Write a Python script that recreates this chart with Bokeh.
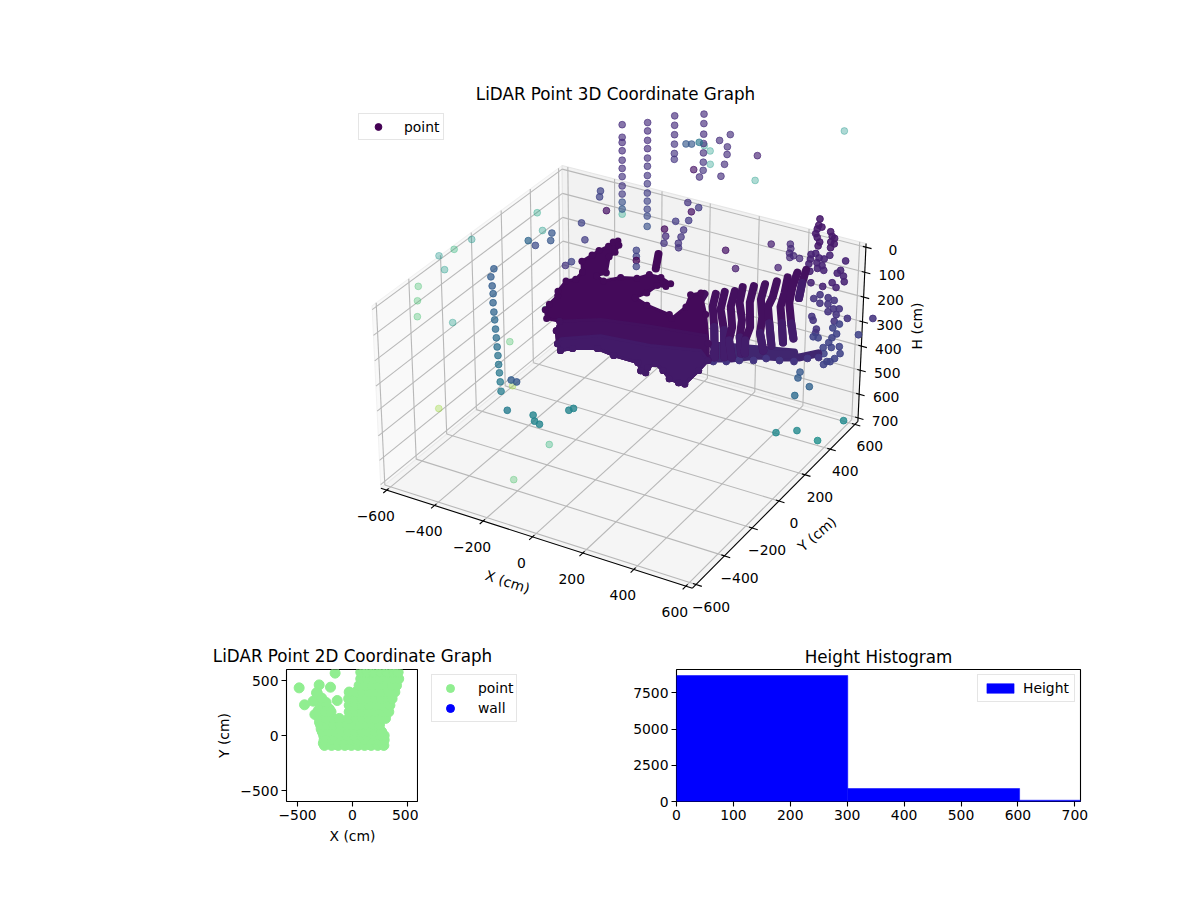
from bokeh.plotting import figure
from bokeh.layouts import column, row
from bokeh.models import Range1d, Legend, LegendItem, FixedTicker, LinearColorMapper, ColumnDataSource
from bokeh.transform import transform
from bokeh.core.properties import value
from bokeh.palettes import Viridis256
from bokeh.embed import file_html
from bokeh.resources import INLINE

FONT = "DejaVu Sans"
TICK_PX = "13.9px"
TITLE_PX = "16.75px"

# ---------- 3D chart values: x (cm), y (cm), h (cm), tone on viridis 0..1 ----------
col_a_xy = (-625, 1070)
col_a_h = [0, 53, 75, 110, 150, 185, 220, 260, 295, 330, 360]
col_a_tone = [.13, .13, .13, .13, .14, .14, .15, .16, .17, .25, .28]
col_b_xy = (-550, 1135)
col_b_h = [0, 35, 75, 110, 150, 185, 225, 260, 300, 335, 370, 400, 445]
col_b_tone = [.13, .13, .13, .13, .14, .15, .16, .17, .18, .2, .2, .22, .25]
col_d_xy = (-490, 1240)
col_d_h = [0, 40, 80, 120, 160, 185]
col_d_tone = [.13, .13, .14, .15, .15, .16]
col_e_xy = (-400, 1310)
col_e_h = [0, 40, 85, 125, 165, 205, 240]
col_e_tone = [.13, .13, .13, .14, .14, .15, .15]

col_f_x = -565
col_f_y = [49, 28, 35, 40, 38, 42, 46, 50, 54, 58, 62, 65, 69, 73, 77]
col_f_h = [137, 160, 200, 234, 270, 310, 344, 384, 422, 462, 500, 539, 576, 616, 658]
col_f_tone = [.3, .3, .3, .31, .32, .33, .34, .35, .36, .37, .38, .39, .4, .41, .42]

back_x = [-432, -413, -395, -335, -324, -282, -251, -219, -182, -249, -298, -146]
back_y = [1227, 1237, 1265, 1319, 1386, 1284, 1224, 1144, 1047, 1001, 1045, 1273]
back_h = [100] * 12
back_tone = [.28, .28, .4, .14, .14, .14, .14, .14, .14, .14, .05, .1]

pale_x = [-364, -322, -266, -54, 44, -623, -532, -717, -730, -750, -675, -687, -631, -568, -440, -582, -501, -640, -542, -625, -253, -238]
pale_y = [1249, 1219, 1117, 1080, 1636, 442, 330, 142, 45, -24, -103, -254, -344, -440, -414, 171, 291, -223, 121, 1070, -97, -363]
pale_h = [100, 100, 100, 100, 100, 100, 100, 100, 100, 100, 100, 100, 100, 100, 100, 500, 400, 600, 650, 382, 700, 700]
pale_tone = [.55, .55, .55, .55, .52, .6, .55, .52, .65, .52, .55, .7, .7, .7, .55, .72, .68, .85, .85, .58, .65, .72]

mid_x = [-512, -490, -411, -440, -361, -320, -316, -465, -492, -535, -493,
         -248, -216, -194, -279, -223, -230, -243, -204, -183, -164, -148, -130, 29, 128, 151, 258, 212, 230, 242, 264, 259, 293,
         -254, -254, -254, -254, -349]
mid_y = [713, 669, 584, 453, 344, 139, 174, 277, 330, 236, 217,
         732, 684, 632, 967, 950, 906, 808, 838, 761, 707, 658, 627, 696, 588, 823, 672, 858, 827, 793, 782, 763, 774,
         532, 532, 532, 532, 542]
mid_h = [100, 100, 100, 100, 100, 100, 100, 100, 100, 100, 100,
         200, 200, 200, 200, 200, 200, 200, 200, 200, 200, 200, 200, 200, 200, 200, 200, 200, 200, 200, 200, 200, 200,
         200, 225, 242, 267, 200]
mid_tone = [.2, .2, .05, .2, .18, .15, .2, .27, .27, .33, .23,
            .03, .13, .15, .15, .17, .05, .17, .17, .15, .15, .15, .15, .05, .08, .09, .1, .12, .12, .12, .12, .12, .12,
            .2, .2, 0, .2, .12]

low_x = [-569, -544, -511, -411, -384, -357, -316, -308, 366, 379, 444, 427, 588, 414, 473, 569]
low_y = [154, 152, 32, 50, 16, 6, 145, 165, 661, 619, 583, 500, 581, 383, 434, 409]
low_h = [650, 650, 700, 700, 700, 700, 700, 700, 600, 600, 600, 600, 700, 700, 700, 700]
low_tone = [.3, .28, .42, .45, .45, .45, .45, .45, .28, .3, .32, .35, .48, .47, .47, .5]

loop_x = [129, 149, 166, 158, 212, 170, 189, 234, 249, 214, 250, 268, 223, 270,
          231, 243, 295, 270, 246, 290, 258, 280, 307, 302, 329, 288, 366, 383, 382, 412, 434, 399, 332, 382, 428,
          358, 322, 315, 351, 387, 380, 414, 432, 406, 442, 458, 490, 571, 371, 388, 428, 438, 444, 463, 512, 511, 533, 536, 558, 583, 582, 578, 568, 567, 579, 476, 508, 506, 484]
loop_y = [1272, 1222, 1215, 1192, 1197, 1155, 1130, 1166, 1156, 1101, 1122, 1115, 1070, 1080,
          996, 1011, 1024, 985, 961, 987, 925, 947, 936, 908, 906, 874, 1013, 937, 911, 902, 864, 835, 796, 792, 809,
          892, 897, 859, 838, 884, 846, 824, 835, 795, 790, 742, 785, 831, 733, 710, 657, 631, 600, 602, 589, 547, 509, 562, 582, 538, 496, 468, 463, 438, 695, 694, 661, 627, 732]
loop_h = [300] * 35 + [400] * 34
loop_tone = [.07] * 14 + [.1] * 21 + [.15] * 17 + [.2] * 17

stripe_x = [280, 314, 334, 361, 371, 401, 428, 454, 473, 486, 503]
stripe_y = [[70, 35, 70, 77], [89, 68, 82, 89], [117, 89, 117, 124], [140, 112, 126, 105, 126],
            [179, 158, 179, 165, 179], [205, 177, 184, 149, 149], [236, 208, 222, 208, 236],
            [275, 247, 212, 226, 247], [320, 299, 271, 285, 299], [368, 333, 312, 333, 354], [402, 374, 353]]
stripe_h = [[20, 35, 150, 274], [20, 59, 147, 271], [20, 75, 170, 282], [20, 67, 155, 197, 276],
            [20, 71, 150, 212, 283], [20, 71, 172, 207, 259], [20, 67, 143, 200, 283],
            [20, 67, 90, 162, 261], [20, 71, 113, 185, 269], [20, 60, 114, 205, 276], [20, 59, 109]]

band_x = [[267, 343, 416, 493, 545, 591], [246, 360, 447, 515], [271, 387, 512]]
band_y = [[112, 156, 222, 250, 280, 341], [206, 247, 280, 304], [163, 222, 286]]
band_h = 300
band_edge_x = [300, 339, 375, 418, 450, 497, 544, 575, 606]
band_edge_y = [106, 129, 158, 183, 217, 228, 247, 290, 315]

lobe_x = [-263, -215]
lobe_y = [714, 609]
lobe_h = 300

cloud_x = [-404, -413, -420, -437, -452, -428, -436, -481, -473, -469, -456, -458, -447, -426, -410, -411, -356, -376, -333, -292,
           -237, -212, -164, -109, -114, -145, -150, -169, -104, 1, 22, 25, -5, 21, 114, 223, 280, 286, 289, 267, 225, 179, 133, 122,
           134, 112, 75, -23, -97, -173, -203, -237, -289, -315, -366]
cloud_y = [134, 177, 247, 277, 359, 388, 450, 522, 583, 627, 675, 714, 730, 701, 645, 603, 488, 451, 428, 483,
           507, 555, 557, 532, 505, 495, 427, 375, 347, 326, 305, 405, 494, 525, 391, 209, 103, 25, -80, -84, -75, -37, -7, -45,
           -80, -76, -32, -31, -17, -61, -94, -57, 20, 86, 81]
cloud_h = 300
cloud_low_x = [223, 280, 286, 289, 267, 225, 179, 133, 122, 134, 112, 75, -23, -97, -173, -203, -237, -289, -315, -194, -17, 192]
cloud_low_y = [209, 103, 25, -80, -84, -75, -37, -7, -45, -80, -76, -32, -31, -17, -61, -94, -57, 20, 86, 172, 217, 256]
cloud_deep_x = [280, 286, 289, 267, 225, 179, 133, 122, 134, 112, 75, -23, -97, -173, -203, -237, -245, -134, 53, 224]
cloud_deep_y = [103, 25, -80, -84, -75, -37, -7, -45, -80, -76, -32, -31, -17, -61, -94, -57, -20, 68, 95, 152]

x_ticks_3d = [-600, -400, -200, 0, 200, 400, 600]
y_ticks_3d = [-600, -400, -200, 0, 200, 400, 600]
h_ticks_3d = [0, 100, 200, 300, 400, 500, 600, 700]

# ---------- 2D chart values ----------
plan_lone_x = [-485, -436, -303, -200, -158, -139, -327, -358, -342, -282, -330, -290, -320, -290, -250, -225, -185,
               -270, -270, -265, -210, -240, -280, -260, -150, -205, -100, -310, -300, -285, -235, -175]
plan_lone_y = [433, 279, 460, 439, 567, 318, 388, 312, 191, 288, 320, 250, 385, 160, 225, 175, 150,
               100, 30, -70, 240, 300, 340, 200, 130, 130, 100, 230, 120, 60, 65, 65]
plan_rows_y = [-90, -40, 0, 35, 95, 155, 215, 275, 335, 395, 455, 515, 575, 630]
plan_rows_x = [
    [-255, -190, -130, -70, -10, 50, 110, 170, 230, 285],
    [-258, -195, -135, -75, -15, 45, 105, 165, 225, 288],
    [-262, -165, -105, -45, 15, 75, 135, 195, 255, 288],
    [-275, -215, -155, -95, -35, 25, 85, 145, 205, 265],
    [-290, -230, -170, -110, -50, 10, 70, 130, 190, 245],
    [-300, -240, -180, -120, -35, 30, 90, 150, 210, 270, 300],
    [-305, -245, -195, -30, 30, 90, 150, 210, 270, 330],
    [-30, 30, 90, 150, 210, 270, 340],
    [-35, 25, 85, 145, 205, 265, 325, 360],
    [-30, 30, 90, 150, 210, 270, 330, 385],
    [60, 120, 180, 240, 300, 360, 400],
    [75, 135, 195, 255, 315, 375, 420],
    [75, 135, 195, 255, 315, 375, 415],
    [100, 160, 220, 280, 340, 400],
]
plan_ticks = [-500, 0, 500]

# ---------- Histogram values ----------
hist_edges = [0, 301, 603, 710]
hist_counts = [8694, 897, 90]
hist_x_ticks = [0, 100, 200, 300, 400, 500, 600, 700]
hist_y_ticks = [0, 2500, 5000, 7500]


# ---------- 3D projection (view elevation 30, azimuth -60, perspective) ----------
XY_LIM = 625.0
H_LOW, H_HIGH = 714.6, -14.6
HALF_XY = 0.595
HALF_Z = 0.35


def project(x, y, h):
    dx = x / XY_LIM * HALF_XY
    dy = y / XY_LIM * HALF_XY
    dz = ((H_LOW - h) / (H_LOW - H_HIGH) - 0.5) * 2 * HALF_Z
    xv = 0.866 * dx + 0.5 * dy
    yv = -0.25 * dx + 0.433 * dy + 0.866 * dz
    n = 0.433 * dx - 0.75 * dy + 0.5 * dz
    return xv / (10 - n), yv / (10 - n)


def project_many(xs, ys, hs):
    pts = [project(a, b, c) for a, b, c in zip(xs, ys, hs)]
    return [p[0] for p in pts], [p[1] for p in pts]


def seg(p, a, b, **kw):
    (x0, y0), (x1, y1) = project(*a), project(*b)
    p.line([x0, x1], [y0, y1], **kw)


def title_style(p, standoff):
    p.title.text_font = FONT
    p.title.text_font_size = TITLE_PX
    p.title.text_font_style = "normal"
    p.title.text_color = "black"
    p.title.align = "center"
    p.title.standoff = standoff


L, R = -XY_LIM, XY_LIM
B, T = H_LOW, H_HIGH

p3 = figure(width=1184, height=640, output_backend="svg", toolbar_location=None,
            x_range=Range1d(-0.19340, 0.18784), y_range=Range1d(-0.09253, 0.08795),
            min_border_left=46, min_border_right=0, min_border_top=104, min_border_bottom=0,
            x_axis_type=None, y_axis_type=None, title="LiDAR Point 3D Coordinate Graph")
p3.grid.visible = False
p3.outline_line_color = None
title_style(p3, 1)

# panes
for corners, fill, edge in [
    ([(L, L, B), (L, R, B), (L, R, T), (L, L, T)], "#f9f9f9", "#f2f2f2"),
    ([(L, R, B), (R, R, B), (R, R, T), (L, R, T)], "#f2f2f2", "#e6e6e6"),
    ([(L, L, B), (R, L, B), (R, R, B), (L, R, B)], "#f5f5f5", "#ececec"),
]:
    xs, ys = project_many(*zip(*corners))
    p3.patch(xs, ys, fill_color=fill, line_color=edge, line_width=1.1)

GRID = dict(line_color="#b8b8b8", line_width=1.1)
for t in x_ticks_3d:
    seg(p3, (t, L, B), (t, R, B), **GRID)
    seg(p3, (t, R, B), (t, R, T), **GRID)
for t in y_ticks_3d:
    seg(p3, (L, t, B), (R, t, B), **GRID)
    seg(p3, (L, t, B), (L, t, T), **GRID)
for t in h_ticks_3d:
    seg(p3, (L, L, t), (L, R, t), **GRID)
    seg(p3, (L, R, t), (R, R, t), **GRID)

AX = dict(line_color="black", line_width=1.1)
seg(p3, (L, L, B), (R, L, B), **AX)
seg(p3, (R, L, B), (R, R, B), **AX)
seg(p3, (R, R, B), (R, R, T), **AX)
for t in x_ticks_3d:
    seg(p3, (t, L + 12, B), (t, L - 22, B), **AX)
for t in y_ticks_3d:
    seg(p3, (R - 12, t, B), (R + 22, t, B), **AX)
for t in h_ticks_3d:
    seg(p3, (R - 12, R, t), (R + 22, R, t), **AX)

TXT = dict(text_font=value(FONT), text_font_size=value(TICK_PX), text_color="black",
           text_align="center", text_baseline="middle")


def tick_labels(pts, labels, dx, dy):
    xs, ys = project_many(*zip(*pts))
    p3.text(xs, ys, text=labels, x_offset=dx, y_offset=dy, **TXT)


def minus(v):
    return str(v).replace("-", "\u2212")


tick_labels([(t, L, B) for t in x_ticks_3d], [minus(t) for t in x_ticks_3d], -11, 26)
tick_labels([(R, t, B) for t in y_ticks_3d], [minus(t) for t in y_ticks_3d], 15, 22)
tick_labels([(R, R, t) for t in h_ticks_3d], [minus(t) for t in h_ticks_3d], 27, 3)

ax_x, ax_y = project(0, L, B)
p3.text([ax_x], [ax_y], text=["X (cm)"], x_offset=-25, y_offset=45, angle=-18, angle_units="deg", **TXT)
ax_x, ax_y = project(R, 0, B)
p3.text([ax_x], [ax_y], text=["Y (cm)"], x_offset=38, y_offset=33, angle=40, angle_units="deg", **TXT)
ax_x, ax_y = project(R, R, 350)
p3.text([ax_x], [ax_y], text=["H (cm)"], x_offset=55, y_offset=-8, angle=90, angle_units="deg", **TXT)

mapper = LinearColorMapper(palette=Viridis256, low=0, high=1)


def cloud(xs, ys, hs, tones, alpha):
    u, v = project_many(xs, ys, hs)
    src = ColumnDataSource(dict(u=u, v=v, tone=tones))
    col = transform("tone", mapper)
    p3.scatter("u", "v", source=src, size=6.8, fill_color=col, line_color=col,
               fill_alpha=alpha, line_alpha=alpha, line_width=1)


cloud(pale_x, pale_y, pale_h, pale_tone, 0.36)
for (cx, cy), hs, tones in [(col_a_xy, col_a_h, col_a_tone), (col_b_xy, col_b_h, col_b_tone),
                            (col_d_xy, col_d_h, col_d_tone), (col_e_xy, col_e_h, col_e_tone)]:
    cloud([cx] * len(hs), [cy] * len(hs), hs, tones, 0.65)
cloud(back_x, back_y, back_h, back_tone, 0.65)
cloud(mid_x, mid_y, mid_h, mid_tone, 0.72)
cloud([col_f_x] * len(col_f_h), col_f_y, col_f_h, col_f_tone, 0.75)
cloud(low_x, low_y, low_h, low_tone, 0.8)
cloud(loop_x, loop_y, loop_h, loop_tone, 0.88)

THICK = dict(line_width=8, line_cap="round", line_join="round")
for bx, by in zip(band_x, band_y):
    u, v = project_many(bx, by, [band_h] * len(bx))
    p3.line(u, v, line_color="#40266f", **THICK)
cloud(band_edge_x, band_edge_y, [band_h] * len(band_edge_x), [.16] * len(band_edge_x), 1)
for sx, sy, sh in zip(stripe_x, stripe_y, stripe_h):
    u, v = project_many([sx] * len(sy), sy, sh)
    p3.line(u, v, line_color="#44105f", **THICK)
    p3.line(u[-2:], v[-2:], line_color="#431d6b", **THICK)
u, v = project_many(lobe_x, lobe_y, [lobe_h] * 2)
p3.line(u, v, line_color="#440a5a", **THICK)

u, v = project_many(cloud_x, cloud_y, [cloud_h] * len(cloud_x))
p3.patch(u, v, fill_color="#440a5a", line_color="#440a5a", line_width=3, line_join="round")
p3.scatter(u, v, size=7, fill_color="#440a5a", line_color=None)
u, v = project_many(cloud_low_x, cloud_low_y, [cloud_h] * len(cloud_low_x))
p3.patch(u, v, fill_color="#43115f", line_color="#43115f", line_width=3, line_join="round")
p3.scatter(u[:19], v[:19], size=7, fill_color="#43115f", line_color=None)
u, v = project_many(cloud_deep_x, cloud_deep_y, [cloud_h] * len(cloud_deep_x))
p3.patch(u, v, fill_color="#421a68", line_color="#421a68", line_width=3, line_join="round")
p3.scatter(u[:16], v[:16], size=7, fill_color="#421a68", line_color=None)

NO_POINT = [float("nan")]
leg_point = p3.scatter(NO_POINT, NO_POINT, size=7, marker="circle", color="#440154")
legend3 = Legend(items=[LegendItem(label="point", renderers=[leg_point])], location=(312, 500),
                 label_text_font=FONT, label_text_font_size=TICK_PX, label_text_color="black",
                 border_line_color="#cccccc", background_fill_alpha=0.8, margin=0, padding=4, spacing=0,
                 glyph_width=30, glyph_height=17, label_height=14, label_standoff=11)
p3.add_layout(legend3, "center")


def style_axes(p, xticks, yticks):
    p.outline_line_color = "black"
    p.outline_line_width = 1.1
    p.grid.visible = False
    for ax, ticks in ((p.xaxis[0], xticks), (p.yaxis[0], yticks)):
        ax.ticker = FixedTicker(ticks=ticks)
        ax.major_label_overrides = {t: minus(t) for t in ticks}
        ax.major_label_text_font = FONT
        ax.major_label_text_font_size = TICK_PX
        ax.major_label_text_color = "black"
        ax.axis_label_text_font = FONT
        ax.axis_label_text_font_size = TICK_PX
        ax.axis_label_text_font_style = "normal"
        ax.axis_label_text_color = "black"
        ax.axis_line_color = None
        ax.major_tick_line_color = "black"
        ax.major_tick_line_width = 1.1
        ax.major_tick_in = 0
        ax.major_tick_out = 5
        ax.minor_tick_line_color = None
        ax.major_label_standoff = 3


# ---------- 2D scatter: title strip above, axes and legend panel below ----------
p2_head = figure(width=568, height=29, output_backend="svg", toolbar_location=None,
                 x_range=Range1d(0, 1), y_range=Range1d(0, 1), x_axis_type=None, y_axis_type=None,
                 min_border_left=286, min_border_right=150, min_border_top=28, min_border_bottom=0,
                 title="LiDAR Point 2D Coordinate Graph")
p2_head.grid.visible = False
p2_head.outline_line_color = None
title_style(p2_head, 5)

p2 = figure(width=418, height=192, output_backend="svg", toolbar_location=None,
            x_range=Range1d(-600, 600), y_range=Range1d(-600, 600),
            min_border_left=286, min_border_right=0, min_border_top=0, min_border_bottom=60,
            x_axis_label="X (cm)", y_axis_label="Y (cm)")
style_axes(p2, plan_ticks, plan_ticks)
plan_x = list(plan_lone_x)
plan_y = list(plan_lone_y)
for ry, rx in zip(plan_rows_y, plan_rows_x):
    plan_x += rx
    plan_y += [ry] * len(rx)
p2.scatter(plan_x, plan_y, size=10, color="#90ee90")

pk = figure(width=150, height=192, output_backend="svg", toolbar_location=None,
            x_range=Range1d(0, 1), y_range=Range1d(0, 1), x_axis_type=None, y_axis_type=None,
            min_border_left=13, min_border_right=17, min_border_top=0, min_border_bottom=60)
pk.grid.visible = False
pk.outline_line_color = None
r_point = pk.scatter(NO_POINT, NO_POINT, color="#90ee90")
r_wall = pk.scatter(NO_POINT, NO_POINT, color="#0000ff")
legend2 = Legend(items=[LegendItem(label="point", renderers=[r_point]), LegendItem(label="wall", renderers=[r_wall])],
                 location=(0, 79), label_text_font=FONT, label_text_font_size=TICK_PX, label_text_color="black",
                 border_line_color="#cccccc", margin=0, padding=3, spacing=0, glyph_width=30, glyph_height=20,
                 label_height=14, label_standoff=13)
pk.add_layout(legend2, "center")

# ---------- Histogram ----------
ph = figure(width=532, height=221, output_backend="svg", toolbar_location=None,
            x_range=Range1d(0, 710), y_range=Range1d(0, 9108),
            min_border_left=108, min_border_right=20, min_border_top=29, min_border_bottom=60,
            title="Height Histogram")
style_axes(ph, hist_x_ticks, hist_y_ticks)
title_style(ph, 6)
r_hist = ph.quad(left=hist_edges[:-1], right=hist_edges[1:], top=hist_counts, bottom=0,
                 fill_color="#0000ff", line_color="#0000ff", line_width=0.5)
legendh = Legend(items=[LegendItem(label="Height", renderers=[r_hist])], location=(301, 99),
                 label_text_font=FONT, label_text_font_size=TICK_PX, label_text_color="black",
                 border_line_color="#cccccc", background_fill_alpha=0.8, margin=0, padding=5,
                 glyph_width=34, glyph_height=12, label_height=14, label_standoff=6)
ph.add_layout(legendh, "center")

left_part = column(p2_head, row(p2, pk, spacing=0), spacing=0)
page = column(p3, row(left_part, ph, spacing=0), spacing=0)
open("out.html", "w").write(file_html(page, INLINE))
